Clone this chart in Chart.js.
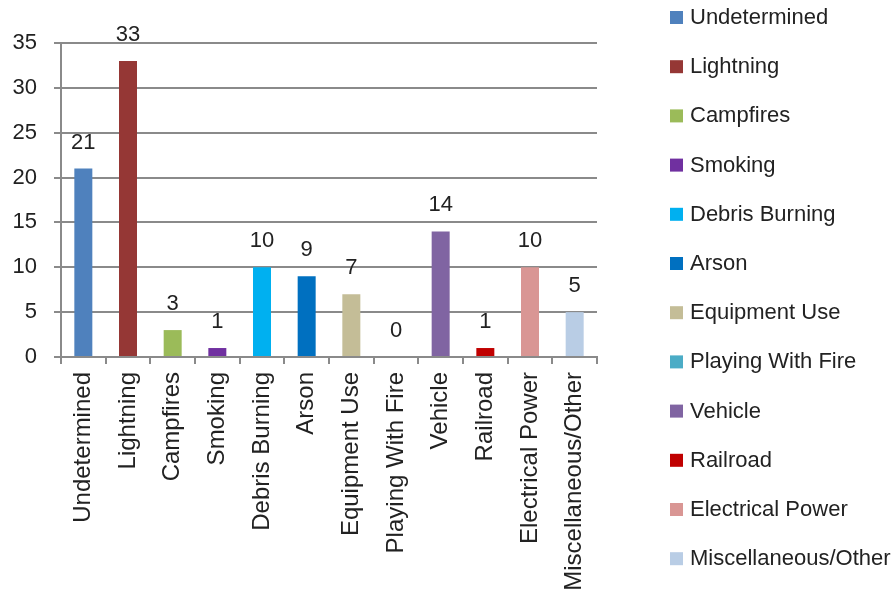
<!DOCTYPE html>
<html lang="en">
<head>
    <meta charset="UTF-8">
    <title>Fire Causes</title>
    <style>
        body {
            margin: 0;
            padding: 0;
            background: #ffffff;
        }
        .chart-container {
            position: relative;
            width: 896px;
            height: 605px;
        }
    </style>
    <script src="https://cdn.jsdelivr.net/npm/chart.js"></script>
</head>
<body>
    <div class="chart-container">
        <canvas id="causeChart"></canvas>
    </div>

    <script>
        // Data
        const categories = ['Undetermined', 'Lightning', 'Campfires', 'Smoking', 'Debris Burning', 'Arson',
            'Equipment Use', 'Playing With Fire', 'Vehicle', 'Railroad', 'Electrical Power', 'Miscellaneous/Other'];
        const fireCounts = [21, 33, 3, 1, 10, 9, 7, 0, 14, 1, 10, 5];
        const barColors = ['#4F81BD', '#953735', '#9BBB59', '#7030A0', '#00B0F0', '#0070C0',
            '#C4BD97', '#4BACC6', '#8064A2', '#C00000', '#D99694', '#B9CDE5'];
        const yTicks = [0, 5, 10, 15, 20, 25, 30, 35];

        const FONT = '"Liberation Sans", Arial, sans-serif';
        const GRID = '#8a8a8a';
        const TEXT = '#222222';

        // value above each bar
        const valueLabels = {
            id: 'valueLabels',
            afterDatasetsDraw(chart) {
                const ctx = chart.ctx;
                const meta = chart.getDatasetMeta(0);
                ctx.save();
                ctx.font = '22px ' + FONT;
                ctx.fillStyle = TEXT;
                ctx.textAlign = 'center';
                ctx.textBaseline = 'middle';
                meta.data.forEach((bar, i) => {
                    ctx.fillText(String(fireCounts[i]), bar.x, bar.y - 26);
                });
                ctx.restore();
            }
        };

        // legend on the right, one entry per category
        const sideLegend = {
            id: 'sideLegend',
            afterDraw(chart) {
                const ctx = chart.ctx;
                ctx.save();
                ctx.font = '22px ' + FONT;
                ctx.textAlign = 'left';
                ctx.textBaseline = 'middle';
                categories.forEach((name, i) => {
                    const cy = 17 + i * 49.2;
                    ctx.fillStyle = barColors[i];
                    ctx.fillRect(670, cy - 6, 13, 13);
                    ctx.fillStyle = TEXT;
                    ctx.fillText(name, 690, cy + 1);
                });
                ctx.restore();
            }
        };

        const ctxCause = document.getElementById('causeChart').getContext('2d');
        const causeChart = new Chart(ctxCause, {
            type: 'bar',
            data: {
                labels: categories,
                datasets: [{
                    label: 'Fires',
                    data: fireCounts,
                    backgroundColor: barColors,
                    borderWidth: 0,
                    inflateAmount: 0,
                    barThickness: 18
                }]
            },
            options: {
                responsive: true,
                maintainAspectRatio: false,
                animation: false,
                layout: {
                    padding: { top: 43, right: 299, left: 0, bottom: 0 }
                },
                plugins: {
                    legend: { display: false },
                    tooltip: { enabled: false }
                },
                scales: {
                    x: {
                        afterFit(s) { s.height = 248; },
                        grid: {
                            offset: true,
                            drawOnChartArea: false,
                            color: GRID,
                            lineWidth: 2,
                            tickLength: 7
                        },
                        border: { color: GRID, width: 2 },
                        ticks: {
                            autoSkip: false,
                            minRotation: 90,
                            maxRotation: 90,
                            padding: 8,
                            color: TEXT,
                            font: { family: FONT, size: 24 }
                        }
                    },
                    y: {
                        min: 0,
                        max: 35,
                        afterFit(s) { s.width = 61; },
                        afterBuildTicks(s) { s.ticks = yTicks.map(v => ({ value: v })); },
                        grid: {
                            color: GRID,
                            lineWidth: 2,
                            tickLength: 7
                        },
                        border: { color: GRID, width: 2 },
                        ticks: {
                            stepSize: 5,
                            padding: 17,
                            color: TEXT,
                            font: { family: FONT, size: 22 }
                        }
                    }
                }
            },
            plugins: [valueLabels, sideLegend]
        });
    </script>
</body>
</html>
